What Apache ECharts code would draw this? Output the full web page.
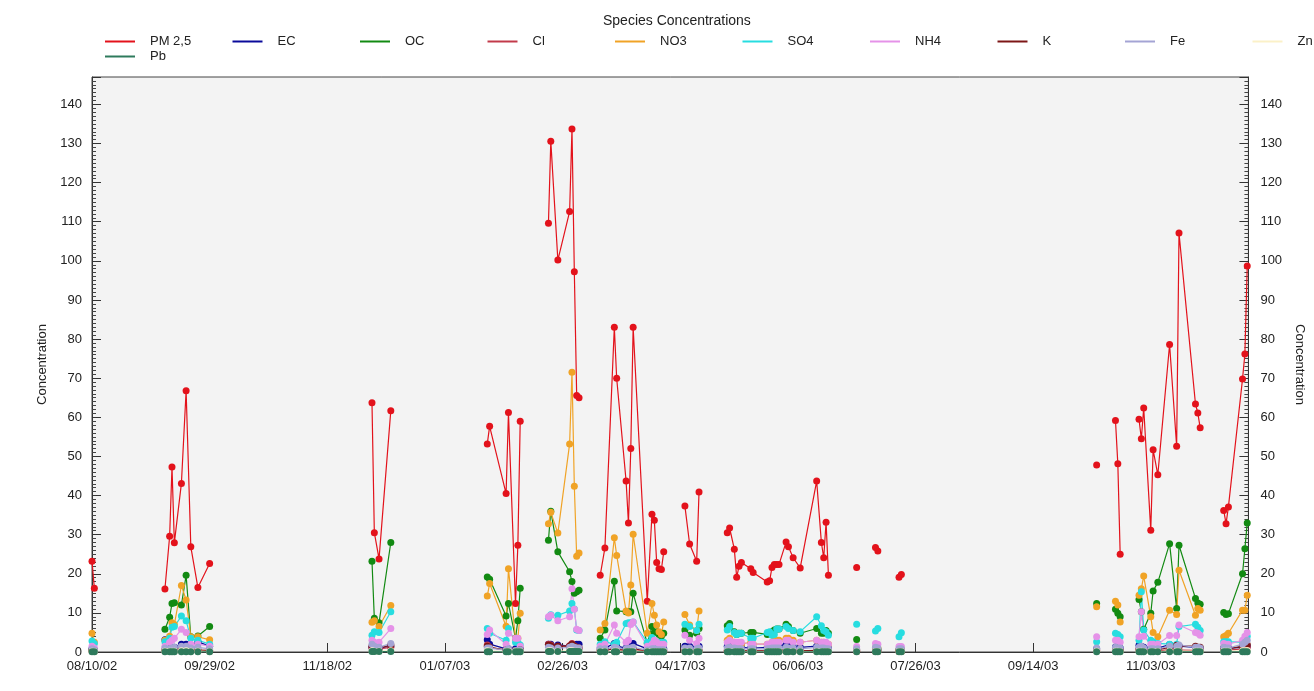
<!DOCTYPE html>
<html><head><meta charset="utf-8">
<script src="https://cdn.jsdelivr.net/npm/echarts@6/dist/echarts.min.js"></script>
<style>html,body{margin:0;padding:0;background:#fff}#c{width:1314px;height:691px}</style>
</head><body><div id="c"></div>
<script>
// Sampling dates, grouped into runs (lines break between runs)
const sampleDates = [
 ['2002-08-10','2002-08-11'],
 ['2002-09-10','2002-09-12','2002-09-13','2002-09-14','2002-09-17','2002-09-19','2002-09-21','2002-09-24','2002-09-29'],
 ['2002-12-07','2002-12-08','2002-12-10','2002-12-15'],
 ['2003-01-25','2003-01-26','2003-02-02','2003-02-03','2003-02-06','2003-02-07','2003-02-08'],
 ['2003-02-20','2003-02-21','2003-02-24','2003-03-01','2003-03-02','2003-03-03','2003-03-04','2003-03-05'],
 ['2003-03-14','2003-03-16','2003-03-20','2003-03-21','2003-03-25','2003-03-26','2003-03-27','2003-03-28','2003-04-03','2003-04-05','2003-04-06','2003-04-07','2003-04-08','2003-04-09','2003-04-10'],
 ['2003-04-19','2003-04-21','2003-04-24','2003-04-25'],
 ['2003-05-07','2003-05-08','2003-05-10','2003-05-11','2003-05-12','2003-05-13','2003-05-17','2003-05-18','2003-05-24','2003-05-25','2003-05-26','2003-05-27','2003-05-28','2003-05-29','2003-06-01','2003-06-02','2003-06-04','2003-06-07','2003-06-14','2003-06-16','2003-06-17','2003-06-18','2003-06-19'],
 ['2003-07-01'],
 ['2003-07-09','2003-07-10'],
 ['2003-07-19','2003-07-20'],
 ['2003-10-11'],
 ['2003-10-19','2003-10-20','2003-10-21'],
 ['2003-10-29','2003-10-30','2003-10-31','2003-11-03','2003-11-04','2003-11-06','2003-11-11','2003-11-14','2003-11-15','2003-11-22','2003-11-23','2003-11-24'],
 ['2003-12-04','2003-12-05','2003-12-06','2003-12-12','2003-12-13','2003-12-14']
];

const pm25 = [
 [23.2,16.3],
 [16.1,29.6,47.3,27.9,43.1,66.8,26.9,16.5,22.6],
 [63.7,30.5,23.8,61.7],
 [53.2,57.7,40.5,61.2,12.4,27.3,59.0],
 [109.6,130.6,100.2,112.6,133.7,97.2,65.6,65.0],
 [19.6,26.6,83.0,70.0,43.7,33.0,52.0,83.0,13.0,35.2,33.7,22.9,21.3,21.1,25.6],
 [37.3,27.6,23.2,40.9],
 [30.5,31.7,26.3,19.1,21.9,22.9,21.3,20.3,17.9,18.2,21.6,22.4,22.4,22.4,28.1,26.9,24.1,21.5,43.7,28.0,24.1,33.2,19.6],
 [21.6],[26.7,25.8],[19.1,19.8],
 [47.8],[59.2,48.1,25.0],
 [59.5,54.5,62.4,31.1,51.7,45.3,78.6,52.6,107.1,63.4,61.1,57.3],
 [36.2,32.8,37.1,69.8,76.2,98.7]
];
const ec = [
 [0.8,0.5],
 [3.1,1.5,1.2,1.2,2.0,2.0,1.5,2.6,1.5],
 [1.2,1.0,1.0,1.5],
 [3.1,2.0,0.8,0.8,0.8,0.5,0.8],
 [2.0,2.0,1.8,1.5,2.0,1.8,2.0,2.0],
 [1.0,1.0,2.2,1.5,1.0,1.0,1.5,2.2,0.8,1.0,1.0,1.0,0.8,0.8,0.8],
 [1.5,1.5,1.2,1.5],
 [1.5,2.0,1.5,1.2,1.2,1.2,1.0,1.0,1.2,1.2,1.5,1.5,1.5,1.5,2.0,1.5,1.5,1.2,1.5,1.2,1.2,1.0,1.0],
 [0.5],[0.6,0.6],[0.5,0.5],
 [0.8],[1.3,1.2,1.0],
 [1.7,1.5,1.2,1.0,1.0,1.0,1.9,1.2,1.5,1.2,1.0,1.0],
 [1.0,1.0,1.0,1.2,1.5,1.5]
];
const oc = [
 [0.5,0.5],
 [5.8,8.9,12.4,12.6,12.0,19.6,3.9,4.1,6.5],
 [23.2,8.6,7.5,28.0],
 [19.2,18.6,9.2,12.4,3.5,8.0,16.3],
 [28.6,36.0,25.6,20.5,18.0,15.0,15.4,15.8],
 [3.5,5.6,18.1,10.5,10.3,10.3,10.3,15.0,2.2,6.5,5.0,5.2,4.5,4.0,4.8],
 [5.6,4.3,4.8,6.0],
 [6.7,7.3,5.2,4.5,4.8,4.8,5.0,5.0,4.5,4.8,5.2,5.6,5.9,5.9,7.1,6.5,5.5,4.8,6.0,4.8,4.8,5.5,4.8],
 [3.2],[0.8,0.8],[0.6,0.6],
 [12.4],[10.9,9.9,9.0],
 [13.4,10.3,5.8,9.9,15.6,17.8,27.7,11.1,27.3,13.7,12.5,12.2],
 [10.1,9.6,9.8,20.0,26.4,33.0]
];
const cl = [
 [0.2,0.2],
 [0.3,0.3,0.4,0.3,0.5,0.5,0.3,0.3,0.2],
 [1.0,0.8,0.8,1.2],
 [1.8,1.2,0.5,0.6,0.4,0.3,0.5],
 [2.0,1.8,1.5,1.6,2.2,1.5,1.2,1.0],
 [0.4,0.5,0.8,0.6,0.5,0.4,0.5,0.6,0.2,0.3,0.3,0.3,0.2,0.2,0.2],
 [0.3,0.3,0.2,0.3],
 [0.2,0.3,0.2,0.2,0.2,0.2,0.2,0.2,0.2,0.2,0.2,0.2,0.2,0.2,0.3,0.2,0.2,0.2,0.3,0.2,0.2,0.2,0.2],
 [0.1],[0.1,0.1],[0.1,0.1],
 [0.3],[0.4,0.3,0.3],
 [0.5,0.4,0.3,0.3,0.3,0.3,0.6,0.5,0.5,0.4,0.4,0.4],
 [0.6,0.5,0.5,0.8,1.0,1.2]
];
const no3 = [
 [4.8,2.5],
 [3.0,4.0,7.5,7.0,17.0,13.3,3.9,3.9,3.1],
 [7.6,8.0,6.5,11.9],
 [14.3,17.5,6.6,21.3,3.5,3.5,9.9],
 [32.8,35.7,30.4,53.2,71.5,42.4,24.5,25.3],
 [5.6,7.3,29.2,24.7,10.5,10.0,17.1,30.1,4.8,12.4,9.4,6.9,5.2,4.5,7.7],
 [9.6,6.9,5.5,10.5],
 [3.0,3.5,2.5,2.0,2.0,2.0,2.5,2.0,2.0,2.0,2.5,3.0,3.0,3.0,3.5,3.5,3.0,2.5,3.0,2.5,2.5,2.0,2.0],
 [0.5],[1.0,1.0],[0.5,0.5],
 [11.6],[13.0,12.0,7.7],
 [14.5,16.2,19.4,9.0,5.0,3.9,10.7,9.6,20.9,9.4,11.1,10.7],
 [3.9,4.2,4.8,10.7,10.7,14.5]
];
const so4 = [
 [2.8,2.2],
 [2.6,3.5,6.3,6.5,9.2,8.0,3.5,3.0,2.0],
 [4.3,5.2,5.0,10.3],
 [6.0,4.8,3.0,6.0,2.5,2.5,1.8],
 [8.6,9.5,9.4,10.5,12.4,11.0,5.6,5.5],
 [2.0,2.6,2.0,2.5,7.3,7.5,7.5,7.7,2.5,3.7,3.0,2.5,2.5,2.5,2.5],
 [7.1,6.5,5.5,7.1],
 [5.6,6.5,5.0,4.5,4.8,4.8,3.5,3.5,5.0,5.2,4.3,4.5,5.9,5.9,6.5,6.0,5.5,5.2,9.0,6.7,5.5,5.2,4.3],
 [7.1],[5.4,6.0],[3.9,4.9],
 [2.6],[4.8,4.5,3.9],
 [3.0,15.4,5.6,3.0,2.6,2.2,2.0,2.0,6.5,7.1,6.3,5.5],
 [2.6,2.6,2.6,2.5,3.0,4.0]
];
const nh4 = [
 [1.5,1.0],
 [1.5,2.5,3.0,3.5,5.8,5.0,2.0,2.0,1.5],
 [3.0,2.5,2.5,6.0],
 [4.5,5.6,2.0,4.8,3.5,3.5,1.5],
 [9.0,9.4,8.0,9.0,16.2,10.9,5.8,5.5],
 [1.5,2.0,6.9,4.8,2.5,3.0,7.0,7.7,1.5,2.0,3.0,2.5,2.0,2.0,2.0],
 [4.3,3.0,2.2,3.5],
 [2.5,3.0,2.5,2.5,2.5,2.5,2.0,2.0,2.0,2.0,2.5,2.5,2.5,2.5,3.0,3.0,2.5,2.5,3.0,2.5,2.5,2.5,2.0],
 [1.4],[2.2,2.0],[1.4,1.4],
 [3.9],[3.0,3.0,2.5],
 [3.9,10.3,4.0,2.0,2.0,2.0,4.2,4.2,6.9,5.0,4.8,4.3],
 [2.2,2.0,2.0,3.0,4.0,5.0]
];
const k = [
 [0.5,0.4],
 [0.6,0.5,0.6,0.6,0.8,0.8,0.5,0.5,0.4],
 [1.5,1.0,1.0,1.8],
 [1.5,1.2,0.5,0.6,0.4,0.4,0.6],
 [1.8,1.6,1.5,1.5,2.0,1.5,1.2,1.0],
 [0.5,0.5,0.8,0.6,0.5,0.5,0.6,0.8,0.3,0.4,0.4,0.4,0.3,0.3,0.3],
 [0.4,0.4,0.3,0.4],
 [0.4,0.4,0.3,0.3,0.3,0.3,0.3,0.3,0.3,0.3,0.3,0.4,0.4,0.4,0.4,0.4,0.3,0.3,0.4,0.3,0.3,0.3,0.3],
 [0.2],[0.2,0.2],[0.2,0.2],
 [0.5],[0.6,0.5,0.5],
 [0.8,0.7,0.6,0.5,0.5,0.6,1.2,1.7,1.5,1.5,1.2,1.2],
 [1.0,0.8,0.8,1.5,2.2,1.9]
];
const fe = [
 [0.8,0.6],
 [1.0,0.8,1.0,1.2,1.5,1.5,1.0,1.2,0.8],
 [2.0,1.5,1.2,2.2],
 [1.0,1.0,0.5,0.8,0.4,0.4,0.6],
 [1.2,1.0,1.0,1.2,1.5,1.2,1.0,1.0],
 [0.8,0.8,1.2,1.0,0.8,0.8,1.0,1.2,0.5,0.8,0.8,0.6,0.6,0.6,0.6],
 [1.0,1.0,0.8,1.0],
 [1.0,1.2,1.0,0.8,0.8,0.8,0.8,0.8,0.8,0.8,1.0,1.0,1.0,1.0,1.2,1.0,1.0,0.8,1.2,1.0,1.0,0.8,0.8],
 [0.8],[1.2,1.0],[0.8,0.8],
 [1.0],[1.2,1.0,1.0],
 [1.2,1.5,1.0,0.8,0.8,0.8,1.5,1.5,1.8,1.2,1.2,1.0],
 [1.2,1.0,1.0,2.0,2.5,3.0]
];
const zn = [
 [0.2,0.1],
 [0.2,0.2,0.2,0.2,0.3,0.3,0.2,0.2,0.1],
 [0.3,0.2,0.2,0.3],
 [0.3,0.2,0.1,0.2,0.1,0.1,0.1],
 [0.3,0.3,0.2,0.3,0.3,0.2,0.2,0.2],
 [0.1,0.1,0.2,0.2,0.1,0.1,0.2,0.2,0.1,0.1,0.1,0.1,0.1,0.1,0.1],
 [0.1,0.1,0.1,0.1],
 [0.1,0.1,0.1,0.1,0.1,0.1,0.1,0.1,0.1,0.1,0.1,0.1,0.1,0.1,0.1,0.1,0.1,0.1,0.1,0.1,0.1,0.1,0.1],
 [0.1],[0.1,0.1],[0.1,0.1],
 [0.2],[0.2,0.2,0.1],
 [0.2,0.2,0.1,0.1,0.1,0.1,0.2,0.2,0.2,0.2,0.2,0.2],
 [0.2,0.2,0.2,0.3,0.3,0.4]
];
const pb = [
 [0.05,0.05],
 [0.05,0.05,0.05,0.05,0.05,0.05,0.05,0.05,0.05],
 [0.1,0.1,0.1,0.1],
 [0.05,0.05,0.05,0.05,0.05,0.05,0.05],
 [0.1,0.1,0.1,0.1,0.1,0.1,0.1,0.1],
 [0.05,0.05,0.05,0.05,0.05,0.05,0.05,0.05,0.05,0.05,0.05,0.05,0.05,0.05,0.05],
 [0.05,0.05,0.05,0.05],
 [0.05,0.05,0.05,0.05,0.05,0.05,0.05,0.05,0.05,0.05,0.05,0.05,0.05,0.05,0.05,0.05,0.05,0.05,0.05,0.05,0.05,0.05,0.05],
 [0.05],[0.05,0.05],[0.05,0.05],
 [0.05],[0.05,0.05,0.05],
 [0.05,0.05,0.05,0.05,0.05,0.05,0.05,0.05,0.05,0.05,0.05,0.05],
 [0.05,0.05,0.05,0.05,0.05,0.05]
];

const seriesNames = ['PM 2,5','EC','OC','Cl','NO3','SO4','NH4','K','Fe','Zn','Pb'];
const seriesValues = [pm25, ec, oc, cl, no3, so4, nh4, k, fe, zn, pb];
const seriesColors = ['#e3121b','#0a0a9a','#128a12','#c23a4a','#f0a326','#27dde0','#e592e8','#7d1616','#a4a4d4','#fbf1c8','#2e7a5c'];
const yTicks = [0,10,20,30,40,50,60,70,80,90,100,110,120,130,140];

const T0 = Date.UTC(2002, 7, 10);
const DAY = 86400000;
function dayOf(s){ return (Date.parse(s) - T0) / DAY; }
function fmt(d){
  const dt = new Date(T0 + d * DAY);
  const p = n => String(n).padStart(2,'0');
  return p(dt.getUTCMonth()+1) + '/' + p(dt.getUTCDate()) + '/' + p(dt.getUTCFullYear() % 100);
}
function build(vals){
  const out = [];
  sampleDates.forEach((grp, gi) => {
    grp.forEach((d, i) => out.push([dayOf(d), vals[gi][i]]));
    out.push([dayOf(grp[grp.length-1]), null]);
  });
  return out;
}

const FONT = 'Liberation Sans, Arial, sans-serif';
const chart = echarts.init(document.getElementById('c'), null, {renderer:'canvas'});
const yAxisBase = {
  type:'value', min:0, max:147, interval:10,
  axisLine:{show:true, lineStyle:{color:'#333'}},
  axisTick:{show:true, inside:true, length:9, lineStyle:{color:'#333'}},
  minorTick:{show:true, splitNumber:10, length:4, lineStyle:{color:'#444'}},
  splitLine:{show:false},
  axisLabel:{fontFamily:FONT, fontSize:13, color:'#222', margin:10, showMaxLabel:false,
    formatter: v => yTicks.includes(v) ? String(v) : ''},
  name:'Concentration', nameLocation:'middle',
  nameTextStyle:{fontFamily:FONT, fontSize:13, color:'#222'}
};
chart.setOption({
  animation:false,
  backgroundColor:'#ffffff',
  title:{text:'Species Concentrations', left:598, top:9,
    textStyle:{fontFamily:FONT, fontSize:14, fontWeight:'normal', color:'#222'}},
  legend: seriesNames.map((n, i) => ({
    data:[n], left: 105 + 127.5 * (i % 10), top: i < 10 ? 35 : 50,
    icon:'rect', itemWidth:30, itemHeight:2, itemGap:0, padding:0, selectedMode:false,
    textStyle:{fontFamily:FONT, fontSize:13, color:'#222', padding:[0,0,0,10]}
  })),
  grid:{left:92, right:57, top:77, bottom:39, show:true, backgroundColor:'#f3f3f3', borderColor:'#444', borderWidth:1},
  xAxis:{
    type:'value', min:0, max:491.5, interval:50,
    axisLine:{show:true, onZero:false, lineStyle:{color:'#333'}},
    axisTick:{show:true, inside:true, length:9, lineStyle:{color:'#333'}},
    splitLine:{show:false},
    axisLabel:{fontFamily:FONT, fontSize:13, color:'#222', margin:8, showMaxLabel:false,
      formatter: v => (v % 50 === 0 ? fmt(v) : '')}
  },
  yAxis:[
    Object.assign({}, yAxisBase, {position:'left', nameGap:41}),
    Object.assign({}, yAxisBase, {position:'right', nameGap:40, nameRotate:-90,
      axisLabel:Object.assign({}, yAxisBase.axisLabel, {margin:12})})
  ],
  series: seriesNames.map((n, i) => ({
    name:n, type:'line', yAxisIndex:0,
    data: build(seriesValues[i]),
    symbol:'circle', symbolSize:7, showSymbol:true, connectNulls:false,
    lineStyle:{width:1.2, color:seriesColors[i]},
    itemStyle:{color:seriesColors[i]},
    emphasis:{disabled:true}
  }))
});
</script></body></html>
